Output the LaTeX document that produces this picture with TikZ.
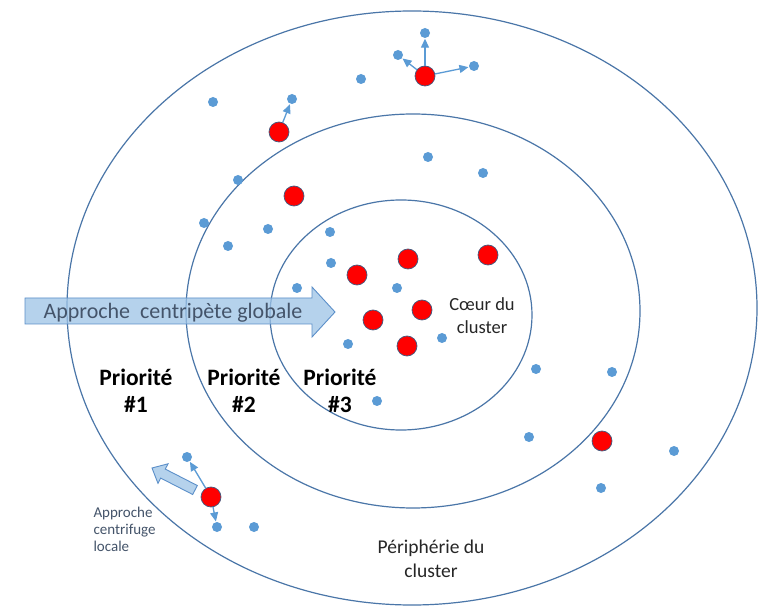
\documentclass[tikz,border=0pt]{standalone}
\usepackage{fontspec}
\setmainfont{Carlito}
\usetikzlibrary{arrows.meta}
\definecolor{dotblue}{HTML}{5B9BD5}
\definecolor{ringblue}{HTML}{4A76A8}
\definecolor{arrfill}{HTML}{9DC3E6}
\definecolor{arrline}{HTML}{5B8FC9}
\definecolor{txtgray}{HTML}{44546A}
\definecolor{redline}{HTML}{3F5A80}
\begin{document}
\begin{tikzpicture}[x=1pt,y=-1pt,
  ring/.style={draw=ringblue,line width=1.2pt},
  bdot/.style={circle,fill=dotblue,inner sep=0pt,minimum size=10pt},
  rdot/.style={circle,fill=red,draw=redline,line width=0.7pt,inner sep=0pt,minimum size=20pt},
  push/.style={draw=dotblue,line width=1.3pt,-{Triangle[length=9pt,width=8pt]},shorten >=0.5pt},
  prio/.style={font=\fontsize{23.5}{27}\selectfont\bfseries,align=center},
  lbl/.style={font=\fontsize{18.5}{23}\selectfont,align=center,text=black!85},
  bigarr/.style={fill=arrfill,fill opacity=0.75,draw=arrline,line width=0.9pt,line join=miter}
]
\useasboundingbox (0,0) rectangle (763,609);
\fill[white] (0,0) rectangle (763,609);
% rings
\draw[ring] (412,308) ellipse [x radius=345pt, y radius=297pt];
\draw[ring] (413,311) ellipse [x radius=227pt, y radius=197pt];
\draw[ring] (401,315) ellipse [x radius=131pt, y radius=115pt];
% blue dots
\node[bdot] (b1) at (425,33) {};
\node[bdot] (b2) at (398,55) {};
\node[bdot] (b3) at (474,66) {};
\node[bdot] (b4) at (361,79) {};
\node[bdot] (b5) at (213,102) {};
\node[bdot] (b6) at (292,99) {};
\node[bdot] (b7) at (428,157) {};
\node[bdot] (b8) at (483,173) {};
\node[bdot] (b9) at (238,180) {};
\node[bdot] (b10) at (204,223) {};
\node[bdot] (b11) at (268,229) {};
\node[bdot] (b12) at (228,246) {};
\node[bdot] (b13) at (330,232) {};
\node[bdot] (b14) at (331,263) {};
\node[bdot] (b15) at (297,288) {};
\node[bdot] (b16) at (397,288) {};
\node[bdot] (b17) at (348,344) {};
\node[bdot] (b18) at (442,338) {};
\node[bdot] (b19) at (377,401) {};
\node[bdot] (b20) at (536,369) {};
\node[bdot] (b21) at (612,372) {};
\node[bdot] (b22) at (529,437) {};
\node[bdot] (b23) at (674,451) {};
\node[bdot] (b24) at (601,488) {};
\node[bdot] (b25) at (187,457) {};
\node[bdot] (b26) at (217,527) {};
\node[bdot] (b27) at (254,527) {};
% red dots
\node[rdot] (r1) at (425,76) {};
\node[rdot] (r2) at (279,132) {};
\node[rdot] (r3) at (294,196) {};
\node[rdot] (r4) at (357,275) {};
\node[rdot] (r5) at (408,259) {};
\node[rdot] (r6) at (488,255) {};
\node[rdot] (r7) at (422,310) {};
\node[rdot] (r8) at (373,320) {};
\node[rdot] (r9) at (407,346) {};
\node[rdot] (r10) at (602,441) {};
\node[rdot] (r11) at (211,497) {};
% local pushes
\draw[push] (r1) -- (b1);
\draw[push] (r1) -- (b2);
\draw[push] (r1) -- (b3);
\draw[push] (r2) -- (b6);
\draw[push] (r11) -- (b25);
\draw[push] (r11) -- (b26);
% big centripetal arrow
\draw[bigarr] (25,298) -- (312,298) -- (312,287) -- (335,312) -- (312,337) -- (312,324) -- (25,324) -- cycle;
\node[font=\fontsize{22}{26}\selectfont,text=txtgray,anchor=base] (cp) at (173,319) {Approche\ \ centripète globale};
% small centrifugal arrow
\draw[bigarr] (197.3,485.5) -- (165.3,469.1) -- (168.0,463.8) -- (152,468) -- (158.0,483.4) -- (160.7,478.1) -- (192.7,494.5) -- cycle;
\node[font=\fontsize{15}{17}\selectfont,text=txtgray,align=left,anchor=north west] (cf) at (90,504) {Approche\\centrifuge\\locale};
% priorities
\node[prio] (p1) at (136,391) {Priorité\\\#1};
\node[prio] (p2) at (244,391) {Priorité\\\#2};
\node[prio] (p3) at (340,391) {Priorité\\\#3};
% labels
\node[lbl] (core) at (482,316) {Cœur du\\cluster};
\node[font=\fontsize{19.5}{24}\selectfont,align=center,text=black!85] (peri) at (431,559) {Périphérie du\\cluster};
\end{tikzpicture}
\end{document}
